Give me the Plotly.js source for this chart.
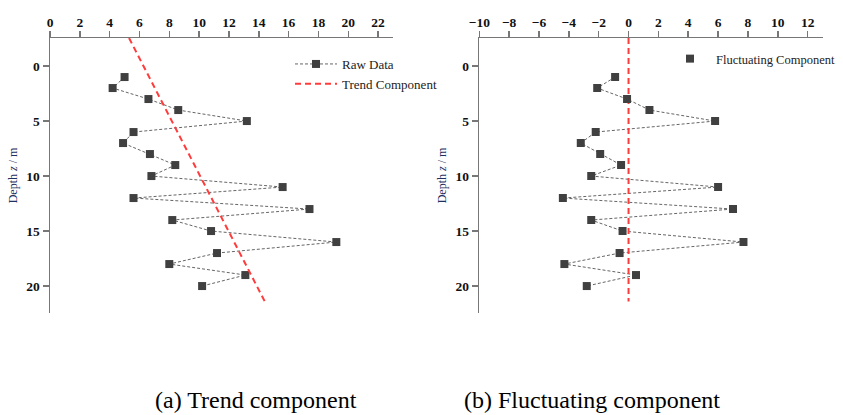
<!DOCTYPE html>
<html>
<head>
<meta charset="utf-8">
<script src="https://cdn.plot.ly/plotly-3.0.1.min.js"></script>
<style>html,body{margin:0;padding:0;background:#fff;}#chart{width:843px;height:415px;}</style>
</head>
<body>
<div id="chart"></div>
<script>
// Depth of each measurement (m)
const depth = [1, 2, 3, 4, 5, 6, 7, 8, 9, 10, 11, 12, 13, 14, 15, 16, 17, 18, 19, 20];
// (a) raw data values
const rawValue = [5.0, 4.2, 6.6, 8.6, 13.2, 5.6, 4.9, 6.7, 8.4, 6.8, 15.6, 5.6, 17.4, 8.2, 10.8, 19.2, 11.2, 8.0, 13.1, 10.2];
// (a) trend component line end points
const trendDepth = [-2.55, 21.4];
const trendValue = [5.3, 14.4];
// (b) fluctuating component values
const fluctValue = [-0.9, -2.1, -0.1, 1.4, 5.8, -2.2, -3.2, -1.9, -0.5, -2.5, 6.0, -4.4, 7.0, -2.5, -0.4, 7.7, -0.6, -4.3, 0.5, -2.8];
// (b) zero reference line
const zeroDepth = [-2.55, 21.4];
const zeroValue = [0, 0];
// tick values
const xTicksA = [0, 2, 4, 6, 8, 10, 12, 14, 16, 18, 20, 22];
const xTicksB = [-10, -8, -6, -4, -2, 0, 2, 4, 6, 8, 10, 12];
const yTicks = [0, 5, 10, 15, 20];
const captions = ["(a) Trend component", "(b) Fluctuating component"];

const W = 843, H = 415;
const serif = '"Liberation Serif", "Times New Roman", serif';
const axisColor = "#777";
const markerColor = "#404040";
const redColor = "#ff3b3b";

const traces = [
  {x: rawValue, y: depth, xaxis: "x", yaxis: "y", name: "Raw Data", mode: "lines+markers",
   line: {color: "#666", width: 1, dash: "3px,2px"},
   marker: {symbol: "square", size: 8, color: markerColor}, legend: "legend"},
  {x: trendValue, y: trendDepth, xaxis: "x", yaxis: "y", name: "Trend Component", mode: "lines",
   line: {color: redColor, width: 2, dash: "6px,4px"}, legend: "legend"},
  {x: fluctValue, y: depth, xaxis: "x2", yaxis: "y2", name: "Fluctuating line", mode: "lines",
   line: {color: "#666", width: 1, dash: "3px,2px"}, showlegend: false},
  {x: zeroValue, y: zeroDepth, xaxis: "x2", yaxis: "y2", name: "Zero", mode: "lines",
   line: {color: redColor, width: 2, dash: "6px,4px"}, showlegend: false},
  {x: fluctValue, y: depth, xaxis: "x2", yaxis: "y2", name: "Fluctuating Component", mode: "markers",
   marker: {symbol: "square", size: 8, color: markerColor}, legend: "legend2"}
];

function xAxis(domain, range, ticks, anchor) {
  return {domain: domain, range: range, side: "top", anchor: anchor,
    tickmode: "array", tickvals: ticks, showgrid: false, zeroline: false,
    showline: true, linecolor: axisColor, linewidth: 1.5,
    ticks: "outside", ticklen: 6, tickwidth: 1.5, tickcolor: axisColor, ticklabelstandoff: -2,
    tickfont: {family: serif, size: 13.5, color: "#111", weight: "bold"}, automargin: false, fixedrange: true};
}
function yAxis(anchor) {
  return {domain: [1 - 313 / H, 1 - 38 / H], range: [22.45, -2.55], anchor: anchor,
    tickmode: "array", tickvals: yTicks, showgrid: false, zeroline: false,
    showline: true, linecolor: axisColor, linewidth: 1.5,
    ticks: "outside", ticklen: 6, tickwidth: 1.5, tickcolor: axisColor,
    tickfont: {family: serif, size: 13.5, color: "#111", weight: "bold"},
    title: {text: "Depth <i>z</i> / m", font: {family: serif, size: 12, color: "#1f2f5f"}, standoff: 6},
    automargin: false, fixedrange: true};
}

const layout = {
  width: W, height: H,
  margin: {l: 0, r: 0, t: 0, b: 0},
  paper_bgcolor: "#fff", plot_bgcolor: "#fff",
  showlegend: true,
  xaxis: xAxis([50 / W, 393 / W], [0, 23.0], xTicksA, "y"),
  yaxis: yAxis("x"),
  xaxis2: xAxis([479.3 / W, 823.3 / W], [-10, 13.05], xTicksB, "y2"),
  yaxis2: yAxis("x2"),
  legend: {x: 290 / W, y: 1 - 49 / H, xanchor: "left", yanchor: "top", itemwidth: 42,
    bgcolor: "rgba(0,0,0,0)", font: {family: serif, size: 13, color: "#222"}},
  legend2: {x: 664 / W, y: 1 - 44 / H, xanchor: "left", yanchor: "top", itemwidth: 42,
    bgcolor: "rgba(0,0,0,0)", font: {family: serif, size: 12.5, color: "#222"}},
  annotations: [
    {text: captions[0], xref: "paper", yref: "paper", x: 256 / W, y: 1 - 400 / H,
     xanchor: "center", yanchor: "middle", showarrow: false, font: {family: serif, size: 24, color: "#000"}},
    {text: captions[1], xref: "paper", yref: "paper", x: 591.5 / W, y: 1 - 400 / H,
     xanchor: "center", yanchor: "middle", showarrow: false, font: {family: serif, size: 24, color: "#000"}}
  ]
};

Plotly.newPlot("chart", traces, layout, {displayModeBar: false, staticPlot: true});
</script>
</body>
</html>
